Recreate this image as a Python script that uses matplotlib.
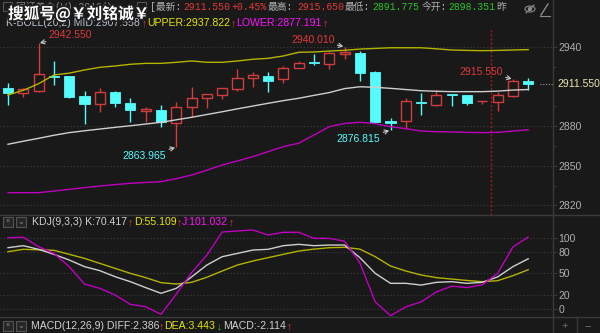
import matplotlib
matplotlib.use("Agg")
import matplotlib.pyplot as plt
import matplotlib.patheffects as pe
from matplotlib.patches import Rectangle, Ellipse, Circle
import numpy as np

# ---------------- data ----------------
opens  = [2908.8, 2905.0, 2906.5, 2917.8, 2917.8, 2902.7, 2896.7, 2905.7, 2897.4, 2891.7,
          2892.1, 2882.3, 2894.4, 2901.2, 2903.5, 2908.0, 2916.3, 2917.8, 2915.6, 2923.9,
          2927.9, 2926.9, 2934.5, 2935.2, 2920.9, 2883.8, 2883.8, 2898.2, 2895.9, 2903.7,
          2903.5, 2898.6, 2898.2, 2902.7, 2914.0]
closes = [2905.0, 2908.0, 2919.3, 2917.0, 2902.0, 2896.7, 2905.7, 2897.4, 2892.1, 2892.5,
          2883.0, 2894.4, 2901.2, 2904.2, 2908.8, 2916.3, 2918.6, 2914.0, 2923.9, 2927.7,
          2927.5, 2935.2, 2936.0, 2920.1, 2883.0, 2882.3, 2898.9, 2897.4, 2903.5, 2903.3,
          2897.4, 2899.2, 2903.5, 2914.0, 2911.55]
highs  = [2912.5, 2908.8, 2942.55, 2929.2, 2918.2, 2906.5, 2908.8, 2906.5, 2901.2, 2894.4,
          2895.9, 2898.2, 2909.5, 2904.5, 2909.0, 2923.1, 2920.9, 2920.9, 2925.4, 2929.2,
          2934.5, 2936.0, 2940.01, 2936.7, 2921.6, 2886.1, 2901.2, 2905.0, 2907.2, 2903.8,
          2903.6, 2899.3, 2905.7, 2915.55, 2916.3]
lows   = [2895.9, 2902.0, 2905.7, 2911.0, 2901.5, 2881.5, 2890.6, 2894.4, 2883.0, 2883.0,
          2879.4, 2863.965, 2886.8, 2893.6, 2900.4, 2906.5, 2909.5, 2905.7, 2912.5, 2923.9,
          2926.2, 2923.1, 2930.7, 2914.0, 2882.3, 2876.815, 2877.9, 2888.3, 2895.1, 2895.1,
          2895.9, 2896.7, 2891.4, 2902.0, 2907.2]

boll_upper = [2903.5, 2907.0, 2912.0, 2918.6, 2920.0, 2922.4, 2924.4, 2925.4, 2926.7, 2927.4,
              2927.4, 2928.2, 2929.2, 2928.2, 2928.2, 2929.2, 2930.5, 2931.2, 2933.0, 2935.8,
              2936.0, 2936.7, 2937.3, 2938.2, 2938.7, 2939.2, 2939.2, 2939.2, 2938.4, 2937.5,
              2937.2, 2937.0, 2937.2, 2937.5, 2937.8]
boll_mid   = [2866.2, 2868.5, 2870.7, 2873.0, 2875.0, 2876.4, 2877.7, 2879.0, 2880.2, 2881.5,
              2882.8, 2884.7, 2886.6, 2888.7, 2890.8, 2893.0, 2895.1, 2897.2, 2899.2, 2901.0,
              2903.2, 2905.3, 2908.3, 2909.7, 2909.3, 2908.5, 2907.6, 2906.7, 2906.3, 2906.0,
              2906.0, 2906.0, 2906.4, 2907.2, 2907.6]
boll_lower = [2829.6, 2829.6, 2829.6, 2830.8, 2832.1, 2833.4, 2834.6, 2835.7, 2836.7, 2837.3,
              2837.9, 2840.2, 2842.9, 2846.6, 2850.5, 2853.6, 2856.8, 2860.6, 2864.4, 2867.0,
              2873.2, 2879.5, 2882.0, 2882.8, 2881.8, 2879.5, 2878.0, 2876.2, 2875.7, 2875.5,
              2875.2, 2875.0, 2875.2, 2876.2, 2877.2]

kdj_k = [86.0, 88.8, 83.7, 76.7, 68.7, 59.4, 53.8, 45.3, 38.3, 30.0,
         22.0, 29.0, 45.0, 61.7, 73.4, 78.0, 82.7, 83.7, 88.8, 90.7,
         88.8, 89.7, 89.7, 72.0, 50.0, 36.0, 36.0, 33.6, 37.4, 38.3,
         36.0, 37.4, 45.0, 59.4, 70.4]
kdj_d = [80.4, 83.7, 83.0, 82.3, 76.7, 71.0, 64.0, 57.0, 50.0, 44.0,
         37.0, 35.0, 37.4, 44.5, 53.3, 61.7, 67.3, 72.0, 76.7, 81.3,
         84.0, 86.0, 86.5, 84.0, 73.4, 60.3, 53.3, 47.7, 44.0, 42.0,
         40.0, 38.3, 39.7, 46.7, 55.1]
kdj_j = [100.0, 100.6, 87.4, 78.0, 59.4, 35.0, 29.0, 19.6, 6.5, 3.3,
         -7.5, 21.0, 51.0, 75.7, 108.0, 109.4, 110.8, 103.8, 107.6, 107.6,
         99.0, 99.0, 95.0, 64.5, 10.0, -9.4, 3.0, 10.0, 24.0, 32.0,
         30.0, 34.0, 50.0, 87.0, 101.0]

price_ticks = [2820, 2850, 2880, 2940]
price_minor = [2835, 2865, 2895, 2925]
kdj_ticks = [0, 20, 50, 80, 100]
last_price = 2911.55
cursor_pos = 31.6
high_marks = [2, 22, 33]
low_marks = [11, 25]

# ---------------- style ----------------
BG = '#191919'
GRID = '#3e3e3e'
SEP = '#3a3a3a'
CYAN = '#54fcfc'
RED = '#d23c3c'
TXTRED = '#e03a3a'
YEL = '#b4b400'
MAG = '#c000c0'
WHITE = '#cfcfcf'
TICK = '#b0b0b0'
SANS = ['Liberation Sans', 'DejaVu Sans', 'Noto Sans CJK SC']
CJK = ['Liberation Mono', 'Noto Sans CJK SC', 'DejaVu Sans']

W, H = 600, 333
fig = plt.figure(figsize=(6, 3.33), dpi=100, facecolor=BG)

def frac(x0, y0, x1, y1):
    return [x0 / W, 1 - y1 / H, (x1 - x0) / W, (y1 - y0) / H]

n = len(closes)
idx = np.arange(n)
xl = (-8 / 15.3, 545 / 15.3)

# ---------------- main panel ----------------
ax = fig.add_axes(frac(0, 0, 553, 215))
ax.set_facecolor(BG)
ax.set_xlim(*xl)
ax.set_ylim(2940 - 168.3 / 1.322, 2940 + 46.7 / 1.322)
for s in ax.spines.values():
    s.set_visible(False)
ax.set_xticks([])
for t in price_ticks:
    ax.axhline(t, color=GRID, lw=0.8, ls=(0, (1, 2)), zorder=0)

o = np.array(opens); c = np.array(closes); hi = np.array(highs); lo = np.array(lows)
up = c >= o
bot = np.minimum(o, c)
ht = np.maximum(np.abs(c - o), 0.7)
colors_w = np.where(up, RED, CYAN)
ax.vlines(idx, lo, hi, colors=colors_w, lw=1.0, zorder=2)
ax.bar(idx[up], ht[up], bottom=bot[up], width=0.66, facecolor=BG, edgecolor=RED, lw=1.0, zorder=3)
ax.bar(idx[~up], ht[~up], bottom=bot[~up], width=0.66, facecolor=CYAN, edgecolor=CYAN, lw=0.6, zorder=3)

ax.plot(idx, boll_upper, color=YEL, lw=1.0, zorder=4)
ax.plot(idx, boll_mid, color=WHITE, lw=1.0, zorder=4)
ax.plot(idx, boll_lower, color=MAG, lw=1.0, zorder=4)

ax.axvline(cursor_pos, ymin=0, ymax=0.86, color='#a01e1e', lw=1.0, ls=(0, (1.5, 1.5)), zorder=1)

# last price marker line towards axis
ax.plot([n - 1 + 0.8, xl[1]], [last_price, last_price], color='#a0a0a0', lw=0.8, ls=(0, (1, 1.5)), zorder=2)

arrow = dict(arrowstyle='->,head_length=0.35,head_width=0.2', color='#c8c8c8', lw=0.8,
             shrinkA=0, shrinkB=1)
for i in high_marks:
    if i == 2:
        off, ha = (10, 8), 'left'
    else:
        off, ha = (-10, 7), 'right'
    ax.annotate(f'{highs[i]:.3f}', xy=(i, highs[i]), xytext=off, textcoords='offset pixels',
                color=TXTRED, fontsize=7.5, family=SANS, ha=ha, va='center',
                arrowprops=arrow, zorder=6)
for i in low_marks:
    ax.annotate(f'{lows[i]:.3f}', xy=(i, lows[i]), xytext=(-10, -9), textcoords='offset pixels',
                color=CYAN, fontsize=7.5, family=SANS, ha='right', va='center',
                arrowprops=arrow, zorder=6)

ax.yaxis.tick_right()
ax.set_yticks(price_ticks)
ax.set_yticklabels([str(t) for t in price_ticks])
ax.set_yticks(price_minor, minor=True)
ax.tick_params(axis='y', which='major', colors=SEP, labelcolor=TICK, labelsize=7.5,
               length=3, width=0.8, direction='out', pad=1)
ax.tick_params(axis='y', which='minor', colors=SEP, length=2, width=0.8, direction='out')
for lab in ax.get_yticklabels():
    lab.set_family(SANS)

# ---------------- KDJ panel ----------------
ak = fig.add_axes(frac(0, 215, 553, 317))
ak.set_facecolor(BG)
ak.set_xlim(*xl)
ak.set_ylim(-8 / 0.713, 94 / 0.713)
for s in ak.spines.values():
    s.set_visible(False)
ak.set_xticks([])
for t in kdj_ticks:
    ak.axhline(t, color=GRID, lw=0.8, ls=(0, (1, 2)), zorder=0)
ak.plot(idx, kdj_d, color=YEL, lw=1.0, zorder=3)
ak.plot(idx, kdj_k, color=WHITE, lw=1.0, zorder=4)
ak.plot(idx, kdj_j, color=MAG, lw=1.0, zorder=5)
ak.yaxis.tick_right()
ak.set_yticks(kdj_ticks)
ak.set_yticklabels([str(t) for t in kdj_ticks])
ak.tick_params(axis='y', colors=SEP, labelcolor=TICK, labelsize=7.5, length=3, width=0.8,
               direction='out', pad=1)
for lab in ak.get_yticklabels():
    lab.set_family(SANS)

# ---------------- overlay ----------------
ov = fig.add_axes([0, 0, 1, 1], zorder=10)
ov.set_xlim(0, W)
ov.set_ylim(H, 0)
ov.axis('off')
ov.patch.set_alpha(0)

ov.plot([0, W], [215, 215], color=SEP, lw=1)
ov.plot([0, W], [317, 317], color=SEP, lw=1)
ov.plot([553, 553], [0, H], color=SEP, lw=1)
ov.plot([577, 577], [317, H], color=SEP, lw=1)
ov.text(565, 326, '+', color='#707070', fontsize=8, ha='center', va='center', family=SANS)
ov.text(588, 326, '−', color='#707070', fontsize=8, ha='center', va='center', family=SANS)

ov.text(557, 84, '2911.550', color='#e8e8b0', fontsize=7.5, ha='left', va='center', family=SANS)

# top-right icons
ov.add_patch(Ellipse((530, 9), 10, 6, fill=False, ec='#8a8a8a', lw=0.8))
ov.add_patch(Circle((530, 9), 1.5, color='#8a8a8a'))
ov.plot([526, 534], [13, 5], color='#8a8a8a', lw=0.8)
ov.plot([541, 548], [15, 4], color='#8a8a8a', lw=1.0)
ov.plot([540, 550], [16, 16], color='#8a8a8a', lw=0.8)

def seg(x, y, s, color, size=7.6, family=SANS):
    ov.text(x, y, s, color=color, fontsize=size, family=family, ha='left', va='center')

# header line 1 (partly hidden under the watermark)
ov.add_patch(Rectangle((3, 2), 9, 9, fill=False, ec='#555555', lw=0.8))
seg(16, 7, '国证黄金(W) 2910公', '#8a8a8a', 7, CJK)
ov.add_patch(Rectangle((137, 2), 9, 9, fill=False, ec='#555555', lw=0.8))
seg(150, 7, '[最新:', '#b0b0b0', 7, CJK)
seg(183, 7, '2911.550', TXTRED, 7, CJK)
seg(231, 7, '+0.45%', TXTRED, 7, CJK)
seg(268, 7, '最高:', '#b0b0b0', 7, CJK)
seg(297, 7, '2915.650', TXTRED, 7, CJK)
seg(345, 7, '最低:', '#b0b0b0', 7, CJK)
seg(372, 7, '2891.775', '#2cc42c', 7, CJK)
seg(422, 7, '今开:', '#b0b0b0', 7, CJK)
seg(448, 7, '2898.351', '#2cc42c', 7, CJK)
seg(496, 7, '昨', '#b0b0b0', 7, CJK)

# header line 2
seg(6, 23, 'K-BOLL(20,2) MID:2907.558', '#b8c4d0')
seg(142, 23, '↑', TXTRED)
seg(147, 23, 'UPPER:2937.822', '#e6e600')
seg(231, 23, '↑', TXTRED)
seg(236, 23, 'LOWER:2877.191', '#ff10ff')
seg(323, 23, '↑', TXTRED)

# watermark
ov.text(8, 14, '搜狐号@￥刘铭诚￥', color='white', fontsize=11.3, fontweight='bold',
        family=['Noto Sans CJK SC', 'DejaVu Sans'], ha='left', va='center',
        path_effects=[pe.withStroke(linewidth=2.5, foreground='#202020')])

def icons(y):
    for x0 in (3, 16):
        ov.add_patch(Rectangle((x0, y - 5), 10, 10, fill=True, fc='#262626', ec='#555555', lw=0.8))
    ov.text(8, y, '‹›', color='#8a8a8a', fontsize=5.5, ha='center', va='center', family=SANS)
    ov.text(21, y, '⌄', color='#8a8a8a', fontsize=6, ha='center', va='center', family=['DejaVu Sans'])

icons(222)
seg(32, 222, 'KDJ(9,3,3) K:70.417', '#d0d0d0')
seg(128, 222, '↑', TXTRED)
seg(134, 222, 'D:55.109', '#e6e600')
seg(177, 222, '↑', TXTRED)
seg(182, 222, 'J:101.032', '#ff10ff')
seg(229, 222, '↑', TXTRED)

icons(326)
seg(31, 326, 'MACD(12,26,9) DIFF:2.386', '#d0d0d0')
seg(159, 326, '↑', TXTRED)
seg(164, 326, 'DEA:3.443', '#e6e600')
seg(217, 326, '↓', '#2cc42c')
seg(223, 326, 'MACD:-2.114', '#d0d0d0')
seg(287, 326, '↑', TXTRED)

fig.savefig('out.png', dpi=100, facecolor=BG)
